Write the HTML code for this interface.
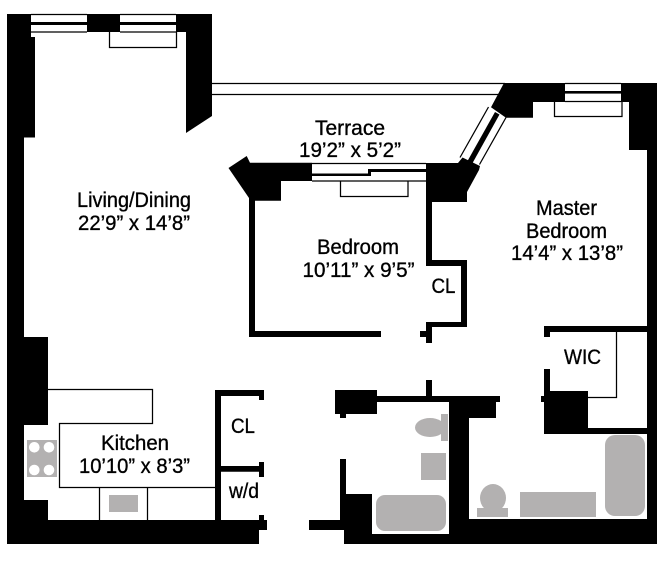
<!DOCTYPE html>
<html>
<head>
<meta charset="utf-8">
<style>
html,body{margin:0;padding:0;background:#fff}
svg{display:block}
text{font-family:"Liberation Sans",sans-serif;font-size:21px;fill:#000;stroke:#000;stroke-width:.35px}
</style>
</head>
<body>
<svg width="672" height="561" viewBox="0 0 672 561" xmlns="http://www.w3.org/2000/svg">
<rect width="672" height="561" fill="#fff"/>

<!-- thin lines -->
<g fill="none" stroke="#000" stroke-width="1.25">
  <path d="M212 83.5H505M212 94.5H499"/>
  <path d="M109.5 32V47.5H176.5V32"/>
  <path d="M340.5 181V196.5H408V181"/>
  <path d="M554.5 102V116.5H622V102"/>
  <path d="M31 14.5H87M31 32H87M120 14.5H176M120 32H176"/>
  <path d="M312 163.5H426M312 181H426"/>
  <path d="M565 83.5H621M565 101.5H621"/>
  <path d="M460 157.5L488.5 107M479.5 164.5L506 117.5"/>
  <path d="M48 389.5H152.5V423.5H59.5V487.5H215"/>
  <path d="M99.5 487.5V520M147.5 487.5V520"/>
  <path d="M616.5 332V397.5H588"/>
</g>

<!-- black walls -->
<g fill="#000">
  <path d="M7 14H31V37H35V137.5H24V337H48V425H24V500H48V520H259V530H259V544H7Z"/>
  <rect x="31" y="22" width="56" height="3"/>
  <rect x="87" y="14" width="33" height="18"/>
  <rect x="120" y="22" width="56" height="3"/>
  <path d="M176 14H212V116L186 133V32H176Z"/>
  <!-- bedroom piers -->
  <path d="M228.5 168L246.7 156L250 162.7H312V181H281V200.7H255V337H381V331H249V198Z"/>
  <rect x="249" y="198" width="6" height="139"/>
  <rect x="249" y="331" width="132" height="6"/>
  <path d="M426 163H458L462.5 157.5L480 166L479 170L467 192V202H432V260H467V327H432V343H426V337H420V331H426V322H461V266H426Z"/>
  <path d="M312 173.5H370.5V176H312Z"/>
  <path d="M368 169H426V172H371V176H368Z"/>
  <!-- diagonal mullion -->
  <path d="M467.5 161L495 112L499.5 114.5L472 164Z"/>
  <!-- master top -->
  <path d="M504 83H565V102H533V117.7H506L491 107.3Z"/>
  <rect x="565" y="91" width="56" height="2.6"/>
  <path d="M621 83H657V544H344V534H449V402H377V414H346V418H340V414H335V390H377V396H500V402H496V418H469V519H647V150H629V102H621Z"/>
  <rect x="426" y="380" width="6" height="16"/>
  <path d="M340 459H346V494H372V534H344V530H309V520H340Z"/>
  <path d="M215 390H264V400H259V396H221V466H259V462H264V477H259V471.7H221V520H215Z"/>
  <rect x="259" y="515" width="5" height="5"/>
  <rect x="259" y="520" width="8" height="10"/>
  <path d="M544 326H647V332H550V337H544Z"/>
  <path d="M544 369H550V391H588V428H647V434H544V402H541V396H544Z"/>
</g>

<!-- grey fixtures -->
<g fill="#b3b1b1">
  <rect x="27" y="440" width="30" height="37"/>
  <rect x="109" y="495" width="29" height="17"/>
  <rect x="441" y="414" width="7" height="27"/>
  <ellipse cx="430" cy="427.5" rx="15" ry="9.5"/>
  <rect x="421" y="453" width="25" height="27"/>
  <rect x="376" y="495" width="70" height="36" rx="9"/>
  <rect x="605" y="435" width="40" height="81" rx="10"/>
  <rect x="520" y="492" width="76" height="25"/>
  <rect x="477" y="508" width="31" height="9"/>
  <ellipse cx="493" cy="498" rx="13" ry="14"/>
</g>
<g fill="#fff">
  <circle cx="34.3" cy="447.3" r="5.3"/>
  <circle cx="49" cy="447.3" r="5.3"/>
  <circle cx="34.3" cy="470" r="5.3"/>
  <circle cx="49" cy="470" r="5.3"/>
</g>

<!-- labels -->
<text x="315" y="135" textLength="70" lengthAdjust="spacingAndGlyphs">Terrace</text>
<text x="299" y="157" textLength="102" lengthAdjust="spacingAndGlyphs">19’2” x 5’2”</text>
<text x="77" y="207" textLength="114" lengthAdjust="spacingAndGlyphs">Living/Dining</text>
<text x="78" y="230" textLength="112" lengthAdjust="spacingAndGlyphs">22’9” x 14’8”</text>
<text x="317" y="254" textLength="82" lengthAdjust="spacingAndGlyphs">Bedroom</text>
<text x="302.5" y="277" textLength="112" lengthAdjust="spacingAndGlyphs">10’11” x 9’5”</text>
<text x="431.5" y="293" textLength="24" lengthAdjust="spacingAndGlyphs">CL</text>
<text x="536" y="215" textLength="61" lengthAdjust="spacingAndGlyphs">Master</text>
<text x="526" y="238" textLength="81" lengthAdjust="spacingAndGlyphs">Bedroom</text>
<text x="511" y="260" textLength="112" lengthAdjust="spacingAndGlyphs">14’4” x 13’8”</text>
<text x="564" y="364" textLength="37" lengthAdjust="spacingAndGlyphs">WIC</text>
<text x="101" y="450" textLength="68" lengthAdjust="spacingAndGlyphs">Kitchen</text>
<text x="79" y="473" textLength="111" lengthAdjust="spacingAndGlyphs">10’10” x 8’3”</text>
<text x="231" y="433" textLength="24" lengthAdjust="spacingAndGlyphs">CL</text>
<text x="229" y="498" textLength="30" lengthAdjust="spacingAndGlyphs">w/d</text>
</svg>
</body>
</html>
